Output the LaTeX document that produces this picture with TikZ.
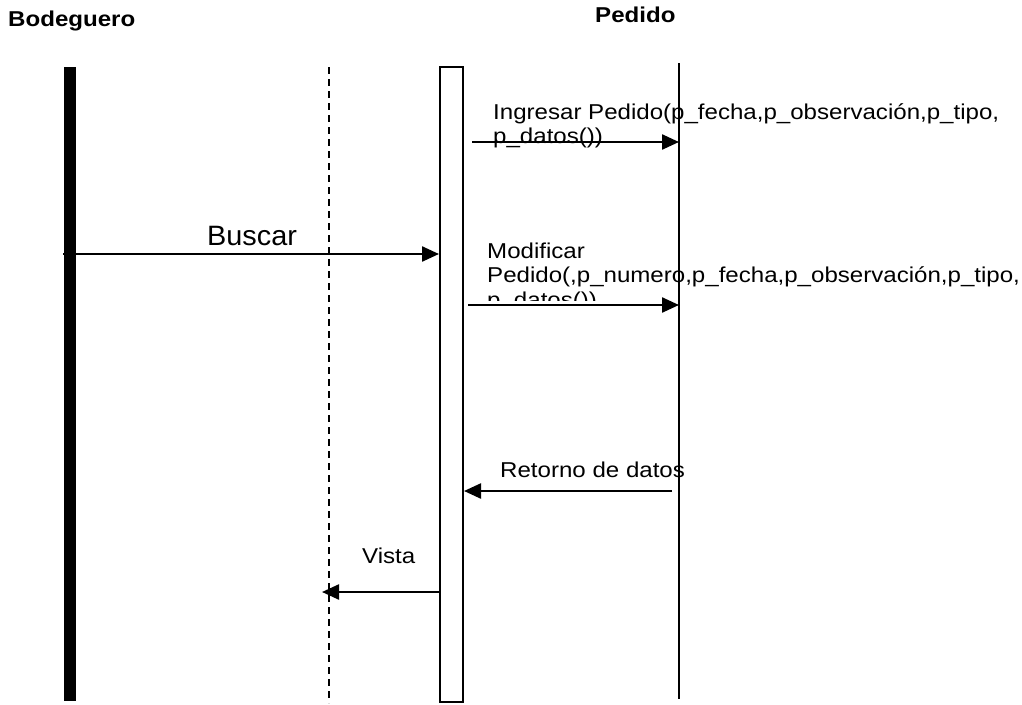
\documentclass[tikz,border=0pt]{standalone}
\usepackage{fontspec}
\setmainfont{Liberation Sans}
\usepackage{graphicx}
\usetikzlibrary{arrows.meta}
\newcommand{\lbl}[1]{\scalebox{1.12}[1]{\begin{tabular}[t]{@{}l@{}}#1\end{tabular}}}
\begin{document}
\begin{tikzpicture}[x=1pt,y=-1pt,
  lab/.style={inner sep=0pt,anchor=base west,font=\fontsize{21.5}{24.5}\selectfont},
  head/.style={inner sep=0pt,anchor=base west,font=\fontsize{21.5}{24}\selectfont\bfseries},
  msg/.style={line width=2.4pt,-{Triangle[length=17pt,width=15pt]}},
  life/.style={line width=1.6pt}]
\useasboundingbox[fill=white] (0,0) rectangle (1022,704);
% headers
\node[head] (hbod) at (8,26) {\scalebox{1.12}[1]{Bodeguero}};
\node[head] (hped) at (595,23) {\scalebox{1.12}[1]{Pedido}};
% lifelines
\node[fill=black,inner sep=0pt,minimum width=12pt,minimum height=634pt] (bod) at (70,384) {};
\coordinate (dtop) at (329,67);
\coordinate (dbot) at (329,703);
\draw[line width=1.6pt,dash pattern=on 7pt off 5pt] (dtop) -- (dbot);
\node[draw,line width=2pt,inner sep=0pt,minimum width=23pt,minimum height=635pt] (act) at (451.5,384.5) {};
\coordinate (ptop) at (679,63);
\coordinate (pbot) at (679,699);
\draw[life] (ptop) -- (pbot);
% message 1
\node[lab] (t1) at (493,119) {\lbl{Ingresar Pedido(p\_fecha,p\_observación,p\_tipo,\\p\_datos())}};
\coordinate (m1) at (472,142);
\draw[msg] (m1) -- (m1 -| ptop);
% Buscar
\node[inner sep=0pt,anchor=base west,font=\fontsize{28}{32}\selectfont] (t2) at (207,245) {\scalebox{1.03}[1]{Buscar}};
\coordinate (m2) at (63,254);
\draw[msg] (m2) -- (m2 -| act.west);
% Modificar
\begin{scope}
\clip (0,0) rectangle (1022,300);
\node[lab] (t3) at (487,258) {\lbl{Modificar\\Pedido(,p\_numero,p\_fecha,p\_observación,p\_tipo,\\p\_datos())}};
\end{scope}
\coordinate (m3) at (468,305);
\draw[msg] (m3) -- (m3 -| ptop);
% Retorno
\node[lab] (t4) at (500,477) {\lbl{Retorno de datos}};
\coordinate (m4) at (672,491);
\draw[msg] (m4) -- (m4 -| act.east);
% Vista
\node[lab] (t5) at (362,563) {\lbl{Vista}};
\coordinate (m5) at (322,592);
\draw[msg] (m5 -| act.west) -- (m5);
\end{tikzpicture}
\end{document}
